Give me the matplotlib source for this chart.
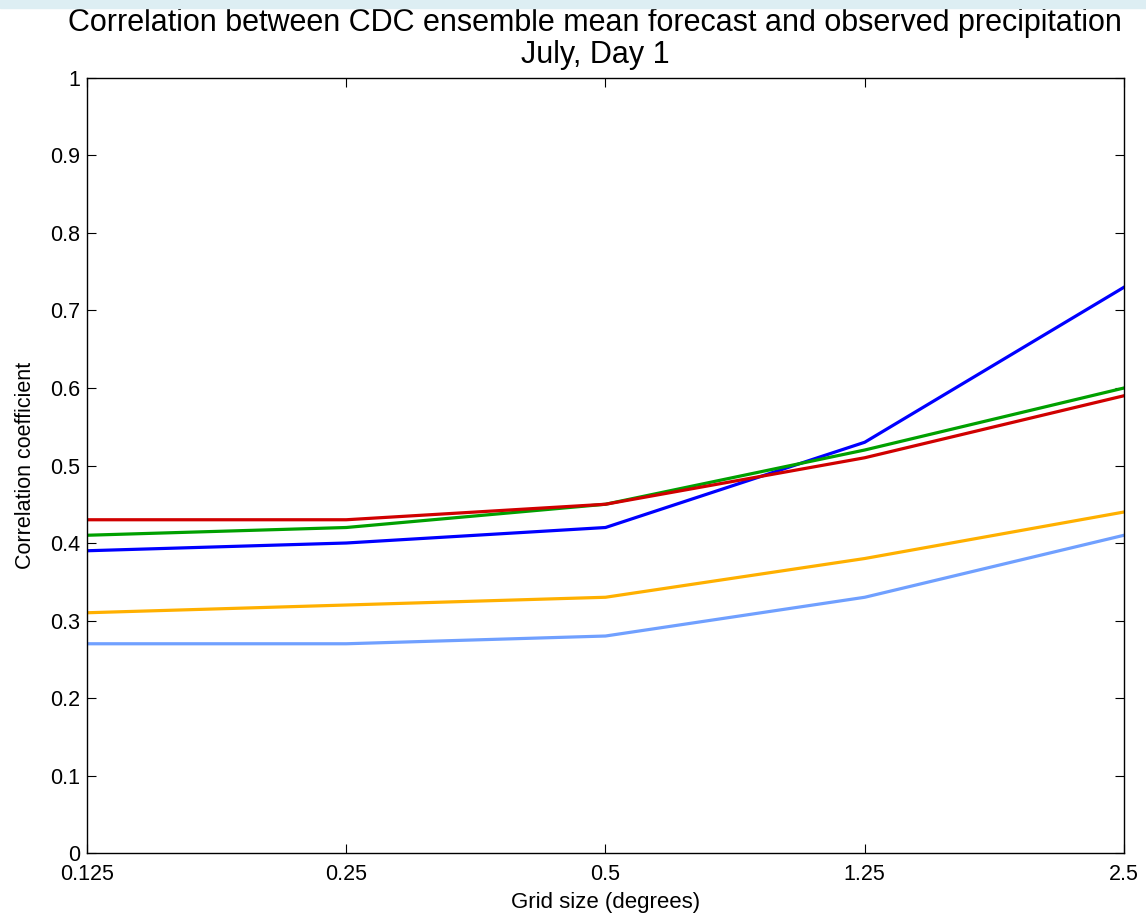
import matplotlib
matplotlib.use("Agg")
import matplotlib.pyplot as plt
import numpy as np

plt.rcParams['font.family'] = ['Liberation Sans', 'DejaVu Sans']

grid_labels = ["0.125", "0.25", "0.5", "1.25", "2.5"]
blue = [0.39, 0.40, 0.42, 0.53, 0.73]
green = [0.41, 0.42, 0.45, 0.52, 0.60]
red = [0.43, 0.43, 0.45, 0.51, 0.59]
orange = [0.31, 0.32, 0.33, 0.38, 0.44]
lightblue = [0.27, 0.27, 0.28, 0.33, 0.41]
yticks = [0, 0.1, 0.2, 0.3, 0.4, 0.5, 0.6, 0.7, 0.8, 0.9, 1]
ytick_labels = ["0", "0.1", "0.2", "0.3", "0.4", "0.5", "0.6", "0.7", "0.8", "0.9", "1"]

fig = plt.figure(figsize=(11.46, 9.14), dpi=100)
# top light-blue strip
fig.patches.append(matplotlib.patches.Rectangle((0, 0.991), 1, 0.009, transform=fig.transFigure,
                                                 color='#ddeef3', zorder=0))
ax = fig.add_axes([0.0759, 0.0667, 0.9049, 0.848])
x = np.arange(len(grid_labels))
lw = 2.3
ax.plot(x, lightblue, color='#70a0ff', lw=lw)
ax.plot(x, orange, color='#ffb000', lw=lw)
ax.plot(x, blue, color='#0000ff', lw=lw)
ax.plot(x, green, color='#00a000', lw=lw)
ax.plot(x, red, color='#d00000', lw=lw)

ax.set_xlim(0, 4)
ax.set_ylim(0, 1)
ax.set_xticks(x)
ax.set_xticklabels(grid_labels, fontsize=15.5)
ax.set_yticks(yticks)
ax.set_yticklabels(ytick_labels, fontsize=15.5)
ax.tick_params(direction='in', top=True, right=True, length=6.5, width=0.8)
ax.tick_params(axis='x', pad=8)
ax.tick_params(axis='y', pad=5)
for s in ax.spines.values():
    s.set_linewidth(1.0)
ax.set_xlabel("Grid size (degrees)", fontsize=16, labelpad=5)
ax.set_ylabel("Correlation coefficient", fontsize=15.5, labelpad=10)
ax.set_title("Correlation between CDC ensemble mean forecast and observed precipitation\nJuly, Day 1",
             fontsize=22, linespacing=1.08, pad=11, x=0.49)
fig.savefig("out.png", dpi=100)
